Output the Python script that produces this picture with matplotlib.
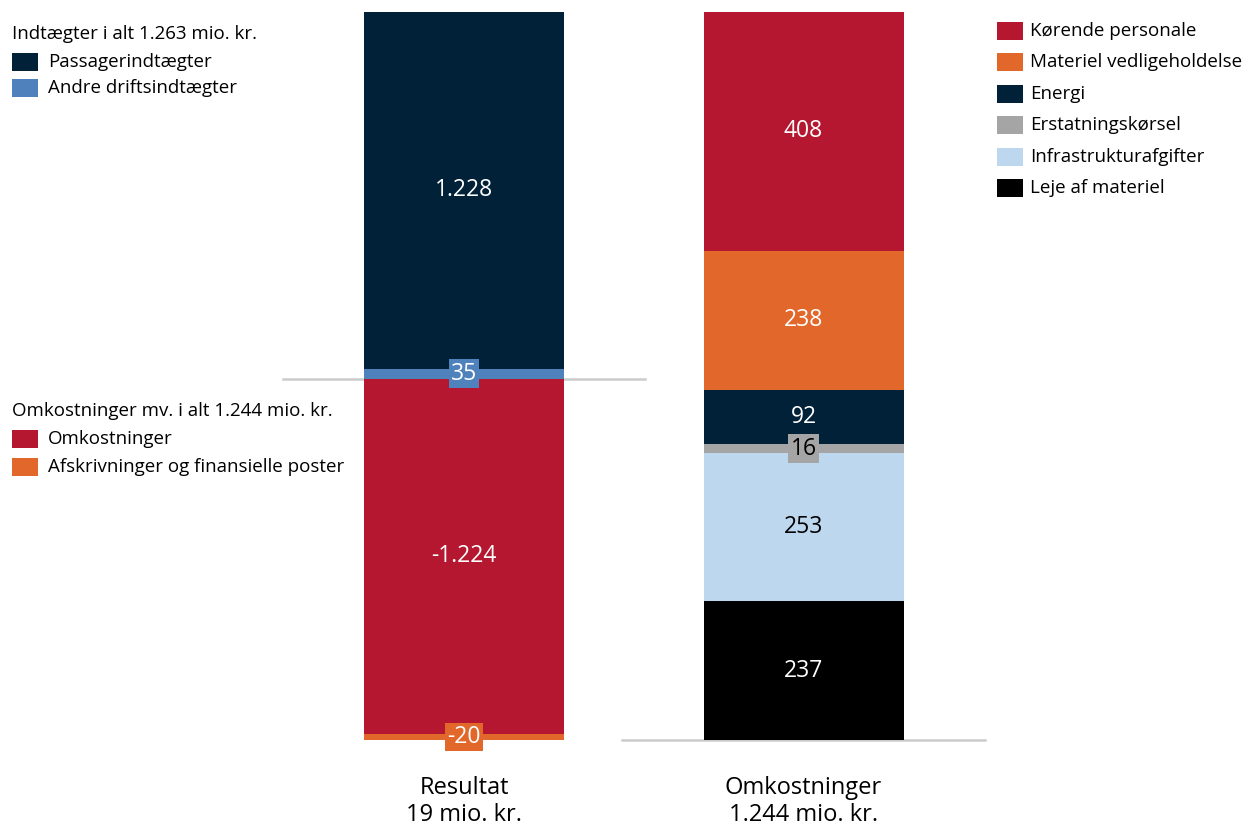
import matplotlib.pyplot as plt
from matplotlib.patches import Rectangle

plt.rcParams['font.family'] = ['Open Sans', 'DejaVu Sans']

# Resultat (venstre søjle)
indt_labels = ['Passagerindtægter', 'Andre driftsindtægter']
indt_values = [1228, 35]
indt_colors = ['#012139', '#4f81bd']
omk_labels = ['Omkostninger', 'Afskrivninger og finansielle poster']
omk_values = [-1224, -20]
omk_colors = ['#b51730', '#e2672b']

# Omkostninger (højre søjle), nedefra og op
cost_labels = ['Leje af materiel', 'Infrastrukturafgifter', 'Erstatningskørsel',
               'Energi', 'Materiel vedligeholdelse', 'Kørende personale']
cost_values = [237, 253, 16, 92, 238, 408]
cost_colors = ['#000000', '#bdd7ee', '#a5a5a5', '#012139', '#e2672b', '#b51730']
cost_text = ['white', 'black', 'black', 'white', 'white', 'white']

bar_names = ['Resultat\n19 mio. kr.', 'Omkostninger\n1.244 mio. kr.']


def fmt(v):
    return f'{v:,}'.replace(',', '.')


W, H = 1256, 827
fig = plt.figure(figsize=(W / 100, H / 100), dpi=100)

bottom = 1 - 740 / H
height = (740 - 12) / H
ax1 = fig.add_axes([283 / W, bottom, 362 / W, height])
ax2 = fig.add_axes([622 / W, bottom, 363 / W, height])

small = 50  # segmenter under denne værdi får label med boks
fs = 16.5


def seg_label(ax, y, v, c, tc):
    if abs(v) < small:
        ax.text(0, y, fmt(v), ha='center', va='center', fontsize=fs, color=tc,
                bbox=dict(boxstyle='square,pad=0.1', fc=c, ec='none'))
    else:
        ax.text(0, y, fmt(v), ha='center', va='center', fontsize=fs, color=tc)


# venstre søjle: indtægter stables fra nul (mindste nærmest nul)
ax1.set_ylim(-sum(-v for v in omk_values), sum(indt_values))
ax1.set_xlim(-0.905, 0.905)
for values, colors in [(indt_values[::-1], indt_colors[::-1]), (omk_values, omk_colors)]:
    base = 0
    for v, c in zip(values, colors):
        ax1.bar(0, v, bottom=base, width=1, color=c)
        seg_label(ax1, base + v / 2, v, c, 'white')
        base += v
ax1.axhline(0, color='#cccccc', lw=1.8, zorder=0.5, clip_on=False)

# højre søjle
ax2.set_ylim(0, sum(cost_values))
ax2.set_xlim(-0.9075, 0.9075)
base = 0
for v, c, tc in zip(cost_values, cost_colors, cost_text):
    ax2.bar(0, v, bottom=base, width=1, color=c)
    seg_label(ax2, base + v / 2, v, c, tc)
    base += v
ax2.axhline(0, color='#cccccc', lw=1.8, zorder=0.5, clip_on=False)

for ax, name in zip([ax1, ax2], bar_names):
    ax.axis('off')
    ax.text(0, -0.05, name, transform=ax.get_xaxis_transform(), ha='center',
            va='top', fontsize=17, linespacing=1.12)


def legend(x, y0, dy, labels, colors, title=None, off=36):
    y = y0
    if title:
        fig.text(x / W, 1 - y / H, title, ha='left', va='center', fontsize=13.5)
        y += 28
    for lab, col in zip(labels, colors):
        fig.patches.append(Rectangle((x / W, 1 - (y + 9) / H), 26 / W, 18 / H,
                                     transform=fig.transFigure, fc=col, ec='none'))
        fig.text((x + off) / W, 1 - y / H, lab, ha='left', va='center', fontsize=13.5)
        y += dy


legend(12, 34, 26, indt_labels, indt_colors, 'Indtægter i alt 1.263 mio. kr.')
legend(12, 411, 28, omk_labels, omk_colors, 'Omkostninger mv. i alt 1.244 mio. kr.')
legend(997, 31, 31.4, cost_labels[::-1], cost_colors[::-1], off=33)

fig.savefig('out.png', dpi=100)
